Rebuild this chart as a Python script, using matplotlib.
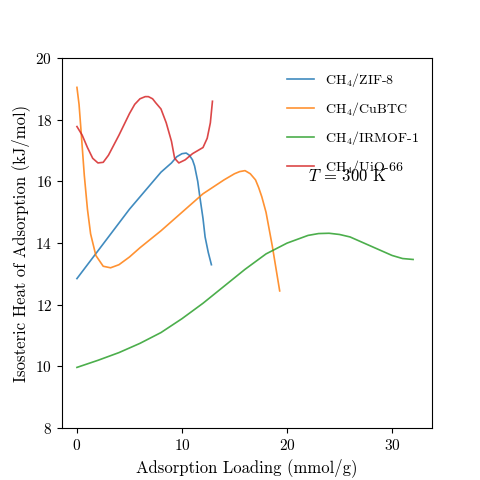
import matplotlib
matplotlib.use("Agg")
import matplotlib.pyplot as plt

plt.rcParams['font.family'] = 'serif'
plt.rcParams['font.serif'] = ['cmr10']
plt.rcParams['mathtext.fontset'] = 'cm'
plt.rcParams['axes.formatter.use_mathtext'] = True

zif_x = [0, 1, 2, 3, 4, 5, 6, 7, 8, 9, 9.5, 10, 10.4, 10.7, 11.0, 11.2, 11.5, 11.7, 12.0, 12.2, 12.5, 12.8]
zif_y = [12.85, 13.3, 13.75, 14.2, 14.65, 15.1, 15.5, 15.9, 16.3, 16.6, 16.8, 16.9, 16.92, 16.85, 16.7, 16.5, 16.0, 15.5, 14.8, 14.2, 13.7, 13.3]
cu_x = [0, 0.2, 0.4, 0.7, 1.0, 1.3, 1.8, 2.5, 3.2, 4, 5, 6, 8, 10, 12, 14, 15, 15.5, 16, 16.5, 17, 17.3, 17.6, 18, 18.6, 19.3]
cu_y = [19.05, 18.5, 17.6, 16.2, 15.1, 14.3, 13.6, 13.25, 13.2, 13.3, 13.55, 13.85, 14.4, 15.0, 15.6, 16.05, 16.25, 16.32, 16.35, 16.25, 16.05, 15.8, 15.5, 15.0, 13.9, 12.45]
ir_x = [0, 2, 4, 6, 8, 10, 12, 14, 16, 18, 20, 22, 23, 24, 25, 26, 28, 30, 31, 32]
ir_y = [9.97, 10.2, 10.45, 10.75, 11.1, 11.55, 12.05, 12.6, 13.15, 13.65, 14.0, 14.25, 14.31, 14.32, 14.28, 14.2, 13.9, 13.6, 13.5, 13.47]
uio_x = [0, 0.5, 1, 1.5, 2, 2.5, 3, 4, 5, 5.5, 6, 6.5, 6.8, 7.2, 7.5, 8, 8.5, 9, 9.3, 9.7, 10.3, 11, 12, 12.4, 12.7, 12.9]
uio_y = [17.78, 17.5, 17.1, 16.75, 16.6, 16.62, 16.85, 17.5, 18.2, 18.5, 18.68, 18.75, 18.75, 18.68, 18.55, 18.35, 17.9, 17.3, 16.75, 16.6, 16.7, 16.9, 17.1, 17.4, 17.9, 18.6]

fig = plt.figure(figsize=(4.8, 4.8), dpi=100)
ax = fig.add_axes([0.129, 0.108, 0.771, 0.771])
kw = dict(lw=1.2, alpha=0.85)
ax.plot(zif_x, zif_y, color='#1f77b4', label=r'CH$_4$/ZIF-8', **kw)
ax.plot(cu_x, cu_y, color='#ff7f0e', label=r'CH$_4$/CuBTC', **kw)
ax.plot(ir_x, ir_y, color='#2ca02c', label=r'CH$_4$/IRMOF-1', **kw)
ax.plot(uio_x, uio_y, color='#d62728', label=r'CH$_4$/UiO-66', **kw)
ax.set_xlim(-1.43, 33.8)
ax.set_ylim(8, 20)
ax.set_xticks([0, 10, 20, 30])
ax.set_yticks([8, 10, 12, 14, 16, 18, 20])
ax.set_xlabel('Adsorption Loading (mmol/g)', fontsize=12)
ax.set_ylabel('Isosteric Heat of Adsorption (kJ/mol)', fontsize=12)
ax.tick_params(labelsize=11)
ax.text(22, 16.0, r'$T$ = 300 K', fontsize=12)
ax.legend(loc='upper right', frameon=False, fontsize=10, labelspacing=0.8)
fig.savefig('out.png', dpi=100)
